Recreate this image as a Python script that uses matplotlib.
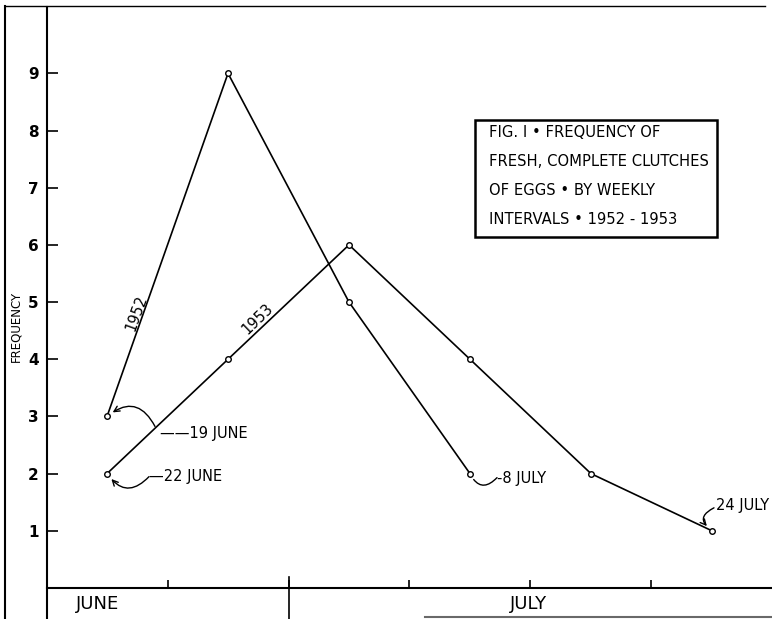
import matplotlib.pyplot as plt
from matplotlib.lines import Line2D
from matplotlib.patches import Rectangle

# Weekly intervals, week 0 = 19 June (1952) / 22 June (1953)
weeks_1952 = [0, 1, 2, 3]
freq_1952 = [3, 9, 5, 2]
weeks_1953 = [0, 1, 2, 3, 4, 5]
freq_1953 = [2, 4, 6, 4, 2, 1]

y_ticks = [1, 2, 3, 4, 5, 6, 7, 8, 9]
x_ticks = [0.5, 1.5, 2.5, 3.5, 4.5]
months = ['JUNE', 'JULY']
month_pos = [-0.08, 3.48]

title_lines = ['FIG. I \u2022 FREQUENCY OF',
               'FRESH, COMPLETE CLUTCHES',
               'OF EGGS \u2022 BY WEEKLY',
               'INTERVALS \u2022 1952 - 1953']

W, H = 772, 619
fig = plt.figure(figsize=(W / 100, H / 100), dpi=100)
ax = fig.add_axes([47 / W, 0, 1 - 47 / W, 612 / H])
ax.set_xlim(-0.496, 5.496)
ax.set_ylim(-0.542, 10.16)

# Lines with small open circles
ax.plot(weeks_1952, freq_1952, color='black', lw=1.2, marker='o', ms=4,
        mfc='white', mec='black', mew=1.0)
ax.plot(weeks_1953, freq_1953, color='black', lw=1.2, marker='o', ms=4,
        mfc='white', mec='black', mew=1.0)

# Spines
ax.spines['top'].set_visible(False)
ax.spines['right'].set_visible(False)
ax.spines['bottom'].set_position(('data', 0))
ax.spines['left'].set_linewidth(1.5)
ax.spines['bottom'].set_linewidth(1.5)

ax.set_yticks(y_ticks)
ax.set_yticklabels([str(v) for v in y_ticks], fontsize=11, fontweight='bold')
ax.tick_params(axis='y', direction='in', length=8, width=1.2, pad=6)
ax.set_xticks(x_ticks)
ax.set_xticklabels([])
ax.tick_params(axis='x', direction='in', length=6, width=1.2)

# month divider
ax.axvline(1.5, ymin=0, ymax=0.54 / 10.7, color='black', lw=1.2)
ax.plot([1.5, 1.5], [0, 0.2], color='black', lw=1.2)

for m, xp in zip(months, month_pos):
    ax.text(xp, -0.28, m, ha='center', va='center', fontsize=13)

ax.set_ylabel('FREQUENCY', fontsize=8.5)
ax.yaxis.set_label_coords(-0.034, 0.478)

# Series labels along the lines
ax.text(0.245, 4.81, '1952', rotation=70, fontsize=10.5, ha='center', va='center',
        rotation_mode='anchor')
ax.text(1.245, 4.7, '1953', rotation=44, fontsize=10.5, ha='center', va='center',
        rotation_mode='anchor')

# Date annotations
arrow = dict(arrowstyle='->', color='black', lw=1.0, shrinkA=0, shrinkB=5)
ax.annotate('', xy=(weeks_1952[0], freq_1952[0]), xytext=(48, -10),
            textcoords='offset pixels',
            arrowprops=dict(arrow, connectionstyle='arc3,rad=0.6'))
ax.annotate('\u2014\u201419 JUNE', xy=(weeks_1952[0], freq_1952[0]), xytext=(53, -17),
            textcoords='offset pixels', fontsize=10.5, ha='left', va='center')

ax.annotate('', xy=(weeks_1953[0], freq_1953[0]), xytext=(42, -3),
            textcoords='offset pixels',
            arrowprops=dict(arrow, connectionstyle='arc3,rad=-0.6'))
ax.annotate('\u201422 JUNE', xy=(weeks_1953[0], freq_1953[0]), xytext=(42, -3),
            textcoords='offset pixels', fontsize=10.5, ha='left', va='center')

ax.annotate('', xy=(weeks_1952[3], freq_1952[3]), xytext=(27, -4),
            textcoords='offset pixels',
            arrowprops=dict(arrow, arrowstyle='-', connectionstyle='arc3,rad=-0.7'))
ax.annotate('-8 JULY', xy=(weeks_1952[3], freq_1952[3]), xytext=(27, -5),
            textcoords='offset pixels', fontsize=10.5, ha='left', va='center')

ax.annotate('', xy=(weeks_1953[5], freq_1953[5]), xytext=(2, 23),
            textcoords='offset pixels',
            arrowprops=dict(arrow, connectionstyle='arc3,rad=0.8'))
ax.annotate('24 JULY', xy=(weeks_1953[5], freq_1953[5]), xytext=(4, 25),
            textcoords='offset pixels', fontsize=10.5, ha='left', va='center')

# Caption box
fig.add_artist(Rectangle((475 / W, (H - 237) / H), 242 / W, 117 / H,
                         fill=False, ec='black', lw=1.8))
fig.text(489 / W, (H - 125) / H, '\n'.join(title_lines),
         fontsize=10.6, ha='left', va='top', linespacing=2.18)

# scan frame lines
fig.add_artist(Line2D([5 / W, 5 / W], [0, 613 / H], color='black', lw=1.5))
fig.add_artist(Line2D([5 / W, 765 / W], [613 / H, 613 / H], color='black', lw=1.0))
fig.add_artist(Line2D([425 / W, 1], [2 / H, 2 / H], color='dimgray', lw=1.5))

fig.savefig('out.png', dpi=100)
